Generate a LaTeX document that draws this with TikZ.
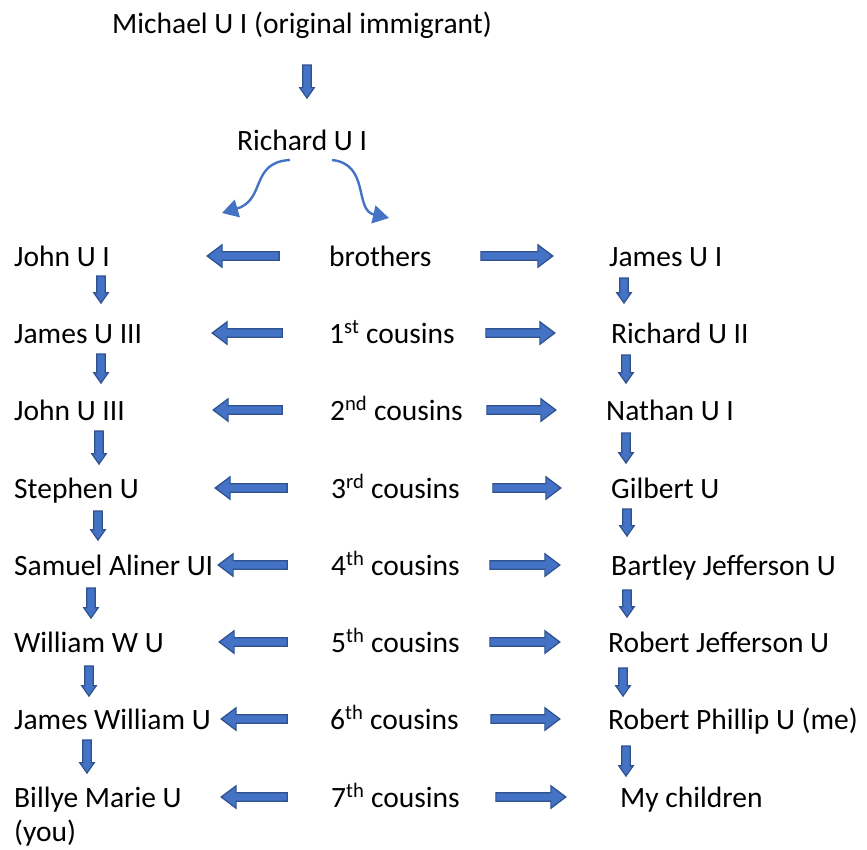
\documentclass[tikz,border=0pt]{standalone}
\usepackage{fontspec}
\setmainfont{Carlito}
\usetikzlibrary{shapes.arrows,arrows.meta}
\definecolor{afill}{HTML}{4472C4}
\definecolor{aline}{HTML}{2F528F}
\begin{document}
\begin{tikzpicture}[x=1pt,y=-1pt,
  lbl/.style={inner sep=0pt,anchor=base west,font=\fontsize{29.5}{34}\selectfont,align=left},
  harrow/.style={single arrow,draw=aline,fill=afill,line width=1.2pt,inner sep=0pt,inner ysep=3.7pt,
     single arrow head extend=7pt,single arrow tip angle=74,minimum height=#1},
  varrow/.style={single arrow,draw=aline,fill=afill,line width=1.2pt,inner sep=0pt,inner ysep=3.7pt,
     single arrow head extend=3pt,single arrow tip angle=70,minimum height=#1,rotate=-90},
  curv/.style={draw=afill,line width=2.4pt,-{Triangle[length=16pt,width=18pt]}}]
\useasboundingbox (0,0) rectangle (867,849);

% top
\node[lbl,anchor=base] (mich) at (302,33) {Michael U I (original immigrant)};
\node[varrow=33] (a0) at (307,78.5) {};
\node[lbl,anchor=base] (rich) at (302,150) {Richard U I};
\coordinate (cl) at (290,160);
\coordinate (cle) at (222,213);
\coordinate (cr) at (332,160);
\coordinate (cre) at (389,218);
\draw[curv] (cl) .. controls (250,162) and (266,200) .. (cle);
\draw[curv] (cr) .. controls (370,164) and (354,210) .. (cre);

% left column
\node[lbl] (l1) at (14,266) {John U I};
\node[lbl] (l2) at (14,343) {James U III};
\node[lbl] (l3) at (14,420) {John U III};
\node[lbl] (l4) at (14,498) {Stephen U};
\node[lbl] (l5) at (14,575) {Samuel Aliner UI};
\node[lbl] (l6) at (14,652) {William W U};
\node[lbl] (l7) at (14,729) {James William U};
\node[lbl] (l8) at (14,841) {Billye Marie U\\(you)};

% middle column
\node[lbl] (m1) at (329,266) {brothers};
\node[lbl] (m2) at (329,343) {1\textsuperscript{st} cousins};
\node[lbl] (m3) at (330,420) {2\textsuperscript{nd} cousins};
\node[lbl] (m4) at (331,498) {3\textsuperscript{rd} cousins};
\node[lbl] (m5) at (331,575) {4\textsuperscript{th} cousins};
\node[lbl] (m6) at (331,652) {5\textsuperscript{th} cousins};
\node[lbl] (m7) at (330,729) {6\textsuperscript{th} cousins};
\node[lbl] (m8) at (331,807) {7\textsuperscript{th} cousins};

% right column
\node[lbl] (r1) at (609,266) {James U I};
\node[lbl] (r2) at (611,343) {Richard U II};
\node[lbl] (r3) at (606,420) {Nathan U I};
\node[lbl] (r4) at (611,498) {Gilbert U};
\node[lbl] (r5) at (611,575) {Bartley Jefferson U};
\node[lbl] (r6) at (608,652) {Robert Jefferson U};
\node[lbl] (r7) at (608,729) {Robert Phillip U (me)};
\node[lbl] (r8) at (620,807) {My children};

% horizontal arrows, left
\node[harrow=72,rotate=180] (hl1) at (246,256) {};
\node[harrow=70,rotate=180] (hl2) at (250,333) {};
\node[harrow=69,rotate=180] (hl3) at (250.5,410) {};
\node[harrow=72,rotate=180] (hl4) at (254,488) {};
\node[harrow=69,rotate=180] (hl5) at (255.5,565) {};
\node[harrow=68,rotate=180] (hl6) at (256,642) {};
\node[harrow=66,rotate=180] (hl7) at (257,719) {};
\node[harrow=66,rotate=180] (hl8) at (257,797) {};

% horizontal arrows, right
\node[harrow=72] (hr1) at (514,256) {};
\node[harrow=69] (hr2) at (517.5,333) {};
\node[harrow=69] (hr3) at (518.5,410) {};
\node[harrow=68] (hr4) at (524,488) {};
\node[harrow=70] (hr5) at (522,565) {};
\node[harrow=70] (hr6) at (522,642) {};
\node[harrow=69] (hr7) at (522.5,719) {};
\node[harrow=70] (hr8) at (528,797) {};

% vertical arrows, left
\node[varrow=27] (vl1) at (101,286.5) {};
\node[varrow=29] (vl2) at (101,365.5) {};
\node[varrow=33] (vl3) at (99,444.5) {};
\node[varrow=29] (vl4) at (98,522.5) {};
\node[varrow=30] (vl5) at (91,600) {};
\node[varrow=30] (vl6) at (89,678) {};
\node[varrow=33] (vl7) at (87,753.5) {};

% vertical arrows, right
\node[varrow=25] (vr1) at (624,287.5) {};
\node[varrow=28] (vr2) at (626,366) {};
\node[varrow=30] (vr3) at (626,445) {};
\node[varrow=27] (vr4) at (627,519.5) {};
\node[varrow=27] (vr5) at (627,600.5) {};
\node[varrow=28] (vr6) at (623,679) {};
\node[varrow=30] (vr7) at (626,758) {};
\end{tikzpicture}
\end{document}
